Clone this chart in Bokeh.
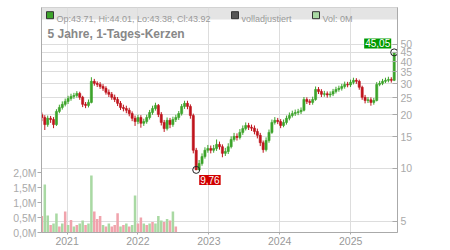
import math
import pandas as pd
from bokeh.plotting import figure
from bokeh.models import (Range1d, LinearAxis, LinearScale, FixedTicker, CustomJSTickFormatter,
                          BoxAnnotation, Label)
from bokeh.embed import file_html
from bokeh.resources import INLINE

# ---------------- data ----------------
start_date = "2020-08-24"
step_days = 15
first_open = 20.0
close = [19.3, 17.6, 19.1, 18.8, 17.6, 20.9, 22.0, 22.9, 23.8, 24.7,
         25.4, 25.7, 26.4, 25.1, 22.9, 22.6, 23.5, 30.9, 30.1, 29.7,
         28.9, 28.2, 26.8, 26.1, 25.1, 24.4, 23.2, 22.0, 21.7, 21.2,
         20.3, 19.1, 18.3, 19.3, 17.9, 18.3, 19.3, 20.6, 21.7, 22.6,
         20.1, 18.1, 16.7, 18.6, 17.6, 18.8, 19.3, 20.3, 22.3, 23.2,
         22.3, 19.8, 12.6, 9.76, 10.6, 11.6, 12.6, 12.9, 12.6, 12.9,
         13.6, 13.2, 12.1, 12.4, 13.2, 14.5, 15.1, 14.9, 15.9, 16.7,
         17.4, 17.0, 16.8, 16.1, 15.3, 13.9, 12.7, 14.3, 15.9, 18.1,
         18.6, 18.3, 17.4, 18.1, 19.1, 19.8, 20.3, 20.6, 20.8, 21.2,
         24.4, 23.8, 23.5, 24.4, 27.8, 27.1, 26.1, 26.3, 25.9, 26.2,
         27.1, 27.8, 28.2, 28.9, 29.7, 29.5, 30.5, 31.3, 30.9, 28.6,
         25.1, 24.1, 24.3, 23.5, 24.1, 29.7, 30.1, 30.9, 31.3, 31.7,
         31.3, 45.05]
high = [20.6, 19.9, 19.8, 19.7, 19.4, 21.5, 22.8, 23.8, 24.7, 25.6,
        26.3, 26.6, 27.2, 27.0, 25.6, 23.6, 24.4, 32.6, 31.9, 30.9,
        30.6, 29.8, 29.0, 27.8, 26.9, 26.0, 25.2, 23.9, 22.8, 22.5,
        21.9, 20.9, 19.8, 20.0, 19.9, 19.0, 20.0, 21.3, 22.5, 23.4,
        23.0, 20.7, 18.7, 19.3, 19.2, 19.5, 20.0, 21.0, 23.0, 24.0,
        24.0, 22.9, 20.3, 13.0, 11.1, 12.1, 13.1, 13.5, 13.4, 13.5,
        14.5, 14.1, 13.6, 13.0, 13.8, 15.1, 15.8, 15.7, 16.6, 17.4,
        18.1, 18.0, 17.6, 17.4, 16.7, 15.8, 14.3, 14.9, 16.5, 18.8,
        19.4, 19.2, 18.9, 18.8, 19.8, 20.6, 21.1, 21.4, 21.6, 22.0,
        25.2, 25.1, 24.5, 25.3, 28.9, 28.7, 27.9, 27.3, 27.1, 27.1,
        28.0, 28.8, 29.2, 29.9, 30.8, 30.7, 31.6, 32.4, 32.2, 31.6,
        29.2, 25.9, 25.2, 25.1, 24.9, 30.6, 31.1, 31.9, 32.4, 32.8,
        32.6, 45.05]
low = [18.4, 16.4, 17.1, 18.0, 16.8, 17.3, 20.4, 21.4, 22.3, 23.0,
       24.0, 24.6, 25.0, 24.3, 22.1, 21.8, 22.0, 23.2, 29.2, 28.7,
       28.0, 27.3, 26.0, 25.2, 24.3, 23.6, 22.4, 21.3, 20.9, 20.4,
       19.6, 18.4, 17.3, 17.7, 16.9, 17.3, 17.8, 18.8, 20.0, 21.1,
       19.4, 17.4, 16.0, 16.3, 16.8, 17.1, 18.2, 18.7, 19.8, 21.6,
       21.5, 19.0, 12.1, 9.76, 9.76, 10.3, 11.3, 12.2, 12.1, 12.2,
       12.5, 12.7, 11.5, 11.7, 12.0, 12.9, 14.1, 14.3, 14.5, 15.4,
       16.3, 16.4, 16.2, 15.5, 14.7, 13.3, 12.2, 12.4, 13.9, 15.6,
       17.6, 17.7, 16.8, 17.0, 17.6, 18.6, 19.3, 19.7, 19.9, 20.2,
       20.9, 23.0, 22.7, 22.8, 24.0, 26.2, 25.2, 25.3, 25.0, 25.1,
       25.5, 26.4, 27.0, 27.4, 28.1, 28.6, 28.7, 29.7, 29.9, 27.7,
       24.3, 23.2, 23.3, 22.5, 22.8, 23.8, 29.0, 29.4, 30.2, 30.5,
       30.4, 31.0]
# volume in millions (only available for the first part of the period)
volume = [0.55, 1.6, 0.57, 0.25, 0.3, 0.63, 0.2, 0.3, 0.7, 0.25,
          0.42, 0.2, 0.25, 0.3, 0.4, 0.25, 0.3, 1.9, 0.7, 0.45,
          0.55, 0.25, 0.2, 0.3, 0.2, 0.25, 0.64, 0.2, 0.25, 0.3,
          0.2, 0.25, 1.23, 0.3, 0.5, 0.3, 0.25, 0.3, 0.35, 0.3,
          0.55, 0.4, 0.35, 0.45, 0.4, 0.7, 0.2]
volume_up = [0, 1, 1, 0, 1, 1, 0, 1, 0, 1,
             0, 1, 0, 1, 1, 0, 1, 1, 0, 0,
             0, 1, 0, 1, 0, 0, 0, 1, 0, 1,
             0, 1, 1, 0, 0, 1, 0, 1, 0, 1,
             1, 1, 0, 1, 0, 1, 0]
year_ticks = ["2021-01-01", "2022-01-01", "2023-01-01", "2024-01-01", "2025-01-01"]
price_ticks = [5, 10, 15, 20, 25, 30, 35, 40, 45, 50]
volume_ticks = [0, 0.5, 1.0, 1.5, 2.0]
legend_ohlc = "Op:43.71, Hi:44.01, Lo:43.38, Cl:43.92"
legend_adj = "volladjustiert"
legend_vol = "Vol: 0M"
title_text = "5 Jahre, 1-Tages-Kerzen"

# ---------------- derived ----------------
dates = pd.date_range(start_date, periods=len(close), freq=f"{step_days}D")
opens = [first_open] + close[:-1]
up = [c >= o for o, c in zip(opens, close)]
GREEN, RED = "#3da42b", "#bf141d"
VGREEN, VRED = "#a9d9a3", "#f0a3ac"
c_colors = [GREEN if u else RED for u in up]
tops = [max(o, c) for o, c in zip(opens, close)]
bots = [min(o, c) for o, c in zip(opens, close)]
v_colors = [VGREEN if u else VRED for u in volume_up]
DAY = 86400000
FONT = "Liberation Sans"

x0 = pd.Timestamp("2020-08-22")
x1 = pd.Timestamp("2025-08-30")
ylo, yhi = 4.32, 80.8
L, R, T, B = 41, 397, 7, 232

p = figure(width=450, height=250, x_axis_type="datetime", y_axis_type="log",
           x_range=Range1d(x0, x1), y_range=Range1d(ylo, yhi),
           y_axis_location="right", title=None,
           output_backend="svg", toolbar_location=None,
           min_border_left=L, min_border_right=450 - R,
           min_border_top=T, min_border_bottom=250 - B)
p.outline_line_color = "#cccccc"
p.background_fill_color = "white"
p.border_fill_color = "white"

x0_ms = x0.value // 10**6
x1_ms = x1.value // 10**6


def px_x(px):
    return x0_ms + (px - L) / (R - L) * (x1_ms - x0_ms)


def px_y(py):
    return 10 ** (math.log10(ylo) + (B - py) / (B - T) * math.log10(yhi / ylo))


# price axis (right)
pax = p.right[0]
pt = FixedTicker(ticks=price_ticks)
pax.ticker = pt
p.ygrid.ticker = pt
pax.formatter = CustomJSTickFormatter(code="return Math.round(tick).toString();")
pax.major_tick_in = 5
pax.major_tick_out = 0
pax.minor_tick_line_color = None
pax.major_tick_line_color = "#aaaaaa"
pax.axis_line_color = "#aaaaaa"
pax.major_label_text_color = "#aaaaaa"
pax.major_label_text_font = FONT
pax.major_label_text_font_size = "10.5px"
pax.major_label_standoff = 3

# time axis
xt = FixedTicker(ticks=[pd.Timestamp(d).value // 10**6 for d in year_ticks])
xax = p.below[0]
xax.ticker = xt
p.xgrid.ticker = xt
xax.formatter = CustomJSTickFormatter(code="return new Date(tick).getUTCFullYear().toString();")
xax.major_tick_in = 0
xax.major_tick_out = 2
xax.minor_tick_line_color = None
xax.major_tick_line_color = "#aaaaaa"
xax.axis_line_color = "#aaaaaa"
xax.major_label_text_color = "#999999"
xax.major_label_text_font = FONT
xax.major_label_text_font_size = "10.5px"
xax.major_label_standoff = 2

p.xgrid.grid_line_color = "#dddddd"
p.ygrid.grid_line_color = "#dddddd"

# volume axis (left, linear)
p.extra_y_ranges = {"vol": Range1d(0, 7.5)}
p.extra_y_scales = {"vol": LinearScale()}
vax = LinearAxis(y_range_name="vol", ticker=FixedTicker(ticks=volume_ticks),
                 formatter=CustomJSTickFormatter(code="return tick.toFixed(1).replace('.', ',') + 'M';"))
vax.major_tick_in = 0
vax.major_tick_out = 4
vax.minor_tick_line_color = None
vax.major_tick_line_color = "#aaaaaa"
vax.axis_line_color = "#aaaaaa"
vax.major_label_text_color = "#aaaaaa"
vax.major_label_text_font = FONT
vax.major_label_text_font_size = "10.5px"
vax.major_label_standoff = 1
p.add_layout(vax, "left")

# legend band
band = BoxAnnotation(left=x0_ms, right=x1_ms, bottom=px_y(19), top=yhi,
                     fill_color="#e4e4e4", fill_alpha=1.0, line_color=None, level="image")
p.add_layout(band)

# volume bars
n_vol = len(volume)
p.vbar(x=dates[:n_vol], top=volume, bottom=0, width=13 * DAY,
       fill_color=v_colors, line_color=None, y_range_name="vol")

# candles: wicks + bodies
p.segment(x0=dates, y0=low, x1=dates, y1=high, line_color=c_colors, line_width=1)
p.vbar(x=dates, top=tops, bottom=bots, width=11 * DAY,
       fill_color=c_colors, line_color=c_colors, line_width=0.6)

# min / max markers
imin = min(range(len(close)), key=lambda i: close[i])
imax = max(range(len(close)), key=lambda i: close[i])
p.scatter(x=[dates[imin], dates[imax]], y=[close[imin], close[imax]], marker="circle",
          size=7, fill_color=None, line_color="#222222", line_width=1)

fmt = lambda v: f"{v:.2f}".replace(".", ",")
p.add_layout(Label(x=dates[imin], y=close[imin], text=fmt(close[imin]),
                   x_offset=3, y_offset=-5, text_align="left", text_baseline="top",
                   text_font=FONT, text_font_size="10px", text_color="white",
                   background_fill_color="#d10000", padding=1))
p.add_layout(Label(x=dates[imax], y=close[imax], text=fmt(close[imax]),
                   x_offset=-3, y_offset=4, text_align="right", text_baseline="bottom",
                   text_font=FONT, text_font_size="10px", text_color="white",
                   background_fill_color="#009a00", padding=1))

# legend squares and texts
p.scatter(x=[px_x(49.5), px_x(234.5), px_x(315.5)], y=[px_y(14.7)] * 3, marker="square",
          size=7, fill_color=[GREEN, "#555555", VGREEN], line_color="#333333", line_width=1)
for tx, px in [(legend_ohlc, 56), (legend_adj, 241), (legend_vol, 322)]:
    p.add_layout(Label(x=px_x(px), y=px_y(18.3), text=tx, text_baseline="alphabetic",
                       text_font=FONT, text_font_size="9px", text_color="#999999"))

p.add_layout(Label(x=px_x(47), y=px_y(33.3), text=title_text, text_baseline="alphabetic",
                   text_font=FONT, text_font_size="12px", text_font_style="bold",
                   text_color="#888888"))

open("out.html", "w").write(file_html(p, INLINE))
